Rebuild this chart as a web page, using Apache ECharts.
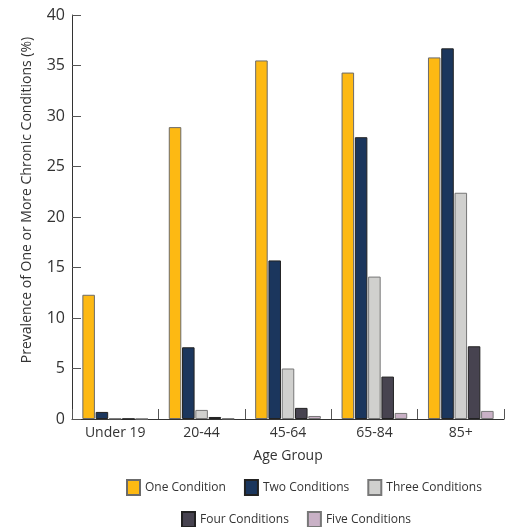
<!DOCTYPE html>
<html><head><meta charset="utf-8">
<script src="https://cdn.jsdelivr.net/npm/echarts@6/dist/echarts.min.js"></script>
<style>html,body{margin:0;padding:0;background:#fff}#c{width:513px;height:527px}</style>
</head><body><div id="c"></div>
<script>
const categories = ['Under 19', '20-44', '45-64', '65-84', '85+'];
const oneCondition = [12.3, 28.9, 35.5, 34.3, 35.8];
const twoConditions = [0.7, 7.1, 15.7, 27.9, 36.7];
const threeConditions = [0.05, 0.9, 5.0, 14.1, 22.4];
const fourConditions = [0.02, 0.2, 1.1, 4.2, 7.2];
const fiveConditions = [0.01, 0.05, 0.3, 0.6, 0.8];
const seriesNames = ['One Condition', 'Two Conditions', 'Three Conditions', 'Four Conditions', 'Five Conditions'];
const seriesData = [oneCondition, twoConditions, threeConditions, fourConditions, fiveConditions];
const colors = ['#FDB913', '#1B365D', '#D0D0CE', '#474350', '#C9B1C6'];
const borders = ['#6b6b6b', '#222', '#777', '#222', '#777'];
const font = '"Open Sans", "Noto Sans", sans-serif';

const chart = echarts.init(document.getElementById('c'), null, {renderer: 'canvas'});
chart.setOption({
  animation: false,
  color: colors,
  textStyle: {fontFamily: font},
  grid: {left: 72, right: 9, top: 15, bottom: 108, containLabel: false},
  legend: [
    {data: seriesNames.slice(0, 3), top: 479, left: 126, padding: 0, itemWidth: 13, itemHeight: 15, itemGap: 18,
     textStyle: {fontSize: 12, color: '#333', fontFamily: font}, icon: 'rect'},
    {data: seriesNames.slice(3), top: 511, left: 181, padding: 0, itemWidth: 13, itemHeight: 15, itemGap: 18,
     textStyle: {fontSize: 12, color: '#333', fontFamily: font}, icon: 'rect'}
  ],
  xAxis: {
    type: 'category', data: categories,
    name: 'Age Group', nameLocation: 'middle', nameGap: 30,
    nameTextStyle: {fontSize: 14, color: '#333', fontFamily: font},
    axisLine: {lineStyle: {color: '#333', width: 1}},
    axisTick: {show: true, inside: true, length: 10, alignWithLabel: false, lineStyle: {color: '#555'}},
    axisLabel: {fontSize: 14, color: '#333', margin: 7, fontFamily: font}
  },
  yAxis: {
    type: 'value', min: 0, max: 40, interval: 5,
    name: 'Prevalence of One or More Chronic Conditions (%)', nameLocation: 'middle', nameGap: 38,
    nameTextStyle: {fontSize: 14, color: '#333', fontFamily: font, padding: [0, 0, 0, 34]},
    axisLine: {show: true, lineStyle: {color: '#333', width: 1}},
    axisTick: {show: true, inside: true, length: 9, lineStyle: {color: '#555'}},
    axisLabel: {fontSize: 16, color: '#333', margin: 7, fontFamily: font},
    splitLine: {show: false}
  },
  series: seriesData.map((d, i) => ({
    name: seriesNames[i], type: 'bar', data: d,
    barCategoryGap: '24%', barGap: '6%',
    itemStyle: {color: colors[i], borderColor: borders[i], borderWidth: 1}
  }))
});
</script></body></html>
